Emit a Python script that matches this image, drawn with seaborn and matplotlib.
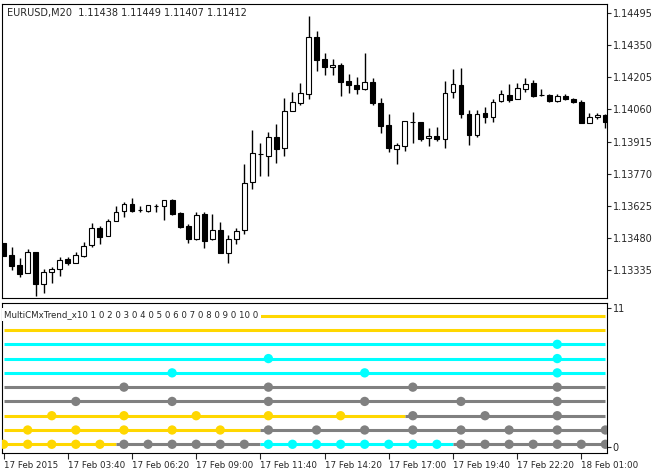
import numpy as np
import pandas as pd
import matplotlib
matplotlib.use("Agg")
import matplotlib.pyplot as plt
import seaborn as sns

sns.set_style("white")
plt.rcParams['font.family'] = ['DejaVu Sans']

# candles, EURUSD M20, in units of 1e-5
opens = [113456, 113403, 113358, 113320, 113415, 113271, 113325, 113338, 113382, 113368,
         113398, 113447, 113523, 113487, 113556, 113600, 113633, 113606, 113603, 113624,
         113626, 113650, 113594, 113534, 113477, 113589, 113474, 113516, 113410, 113474,
         113516, 113731, 113859, 113848, 113935, 113886, 114051, 114090, 114132, 114385,
         114286, 114250, 114260, 114188, 114169, 114151, 114182, 114090, 113990, 113880,
         113896, 114003, 114003, 113931, 113940, 113925, 114137, 114170, 114039, 113946,
         114042, 114024, 114096, 114123, 114105, 114154, 114178, 114125, 114126, 114098,
         114119, 114108, 114093, 114000, 114024, 114035]
closes = [113398, 113355, 113317, 113415, 113272, 113325, 113338, 113379, 113365, 113401,
          113444, 113523, 113486, 113556, 113597, 113633, 113603, 113606, 113629, 113624,
          113650, 113589, 113531, 113477, 113582, 113465, 113516, 113410, 113474, 113511,
          113726, 113862, 113859, 113935, 113883, 114051, 114093, 114132, 114385, 114284,
          114250, 114260, 114185, 114169, 114151, 114182, 114090, 113987, 113884, 113899,
          114006, 114003, 113928, 113940, 113925, 114132, 114173, 114039, 113944, 114039,
          114024, 114092, 114128, 114104, 114155, 114172, 114122, 114125, 114098, 114119,
          114105, 114092, 114000, 114026, 114035, 114005]
highs = [113456, 113438, 113388, 113430, 113415, 113341, 113350, 113392, 113392, 113415,
         113460, 113549, 113535, 113567, 113624, 113644, 113660, 113624, 113629, 113633,
         113650, 113656, 113599, 113543, 113599, 113597, 113589, 113550, 113493, 113526,
         113812, 113969, 113907, 113957, 113994, 114110, 114140, 114179, 114483, 114414,
         114313, 114287, 114271, 114220, 114205, 114316, 114202, 114111, 114039, 113910,
         114009, 114048, 114003, 113978, 113982, 114188, 114242, 114248, 114057, 114057,
         114069, 114108, 114148, 114176, 114178, 114203, 114193, 114151, 114131, 114132,
         114129, 114111, 114104, 114045, 114042, 114039]
lows = [113398, 113335, 113302, 113320, 113218, 113233, 113278, 113308, 113358, 113365,
        113392, 113438, 113454, 113487, 113556, 113573, 113595, 113595, 113595, 113597,
        113561, 113585, 113526, 113459, 113471, 113433, 113471, 113410, 113368, 113454,
        113496, 113702, 113758, 113761, 113820, 113848, 114051, 114080, 114105, 114235,
        114215, 114215, 114119, 114135, 114132, 114148, 114080, 113952, 113869, 113812,
        113872, 113910, 113917, 113896, 113917, 113884, 114111, 114020, 113901, 113934,
        114000, 114003, 114092, 114095, 114105, 114139, 114117, 114119, 114093, 114093,
        114102, 114090, 114000, 113997, 114018, 113975]

price_ticks = ["1.14495", "1.14350", "1.14205", "1.14060", "1.13915",
               "1.13770", "1.13625", "1.13480", "1.13335"]
time_labels = ["17 Feb 2015", "17 Feb 03:40", "17 Feb 06:20", "17 Feb 09:00", "17 Feb 11:40",
               "17 Feb 14:20", "17 Feb 17:00", "17 Feb 19:40", "17 Feb 22:20", "18 Feb 01:00"]
time_bars = [0, 8, 16, 24, 32, 40, 48, 56, 64, 72]

# indicator rows: colour segments (start bar, colour) and dot bars
GOLD, CYAN, GRAY = "#FFD700", "#00FFFF", "#808080"
row_segments = {
    10: [(0, GOLD)],
    9: [(0, GOLD)],
    8: [(0, CYAN)],
    7: [(0, CYAN)],
    6: [(0, CYAN)],
    5: [(0, GRAY)],
    4: [(0, GRAY)],
    3: [(0, GOLD), (50, GRAY)],
    2: [(0, GOLD), (32, GRAY)],
    1: [(0, GOLD), (14, GRAY), (32, CYAN), (56, GRAY)],
}
row_dots = {
    10: [], 9: [],
    8: [69],
    7: [33, 69],
    6: [21, 45, 69],
    5: [15, 33, 51, 69],
    4: [9, 21, 33, 45, 57, 69],
    3: [6, 15, 24, 33, 42, 51, 60, 69],
    2: [3, 9, 15, 21, 27, 33, 39, 45, 51, 57, 63, 69, 75],
    1: [0, 3, 6, 9, 12, 15, 18, 21, 24, 27, 30, 33, 36, 39, 42, 45, 48, 51, 54, 57, 60, 63, 66, 69, 72, 75],
}

n = len(opens)
o = np.array(opens) / 1e5
c = np.array(closes) / 1e5
h = np.array(highs) / 1e5
l = np.array(lows) / 1e5
x = np.arange(n)

W, H = 654, 470
fig = plt.figure(figsize=(W / 100, H / 100), dpi=100)
ax = fig.add_axes([2 / W, 1 - 298 / H, 605 / W, 294 / H])
ax2 = fig.add_axes([2 / W, 1 - 453 / H, 605 / W, 150 / H])

# candles
ax.vlines(x, l, h, color="black", lw=1)
bear = c < o
ax.bar(x, np.abs(c - o) + 0.000008, bottom=np.minimum(o, c), width=0.6,
       color=np.where(bear, "black", "white"), edgecolor="black", linewidth=0.8, zorder=3)
ax.set_xlim(-0.2, 75.2)
ax.set_ylim(1.13209, 1.14536)
ax.yaxis.tick_right()
ax.set_yticks([float(t) for t in price_ticks])
ax.set_yticklabels(price_ticks, fontsize=7)
ax.set_xticks([])
ax.tick_params(axis="y", direction="out", length=3, pad=1, right=True)
ax.text(0.008, 0.985, "EURUSD,M20  1.11438 1.11449 1.11407 1.11412", transform=ax.transAxes,
        fontsize=7, va="top", ha="left")

# indicator
for row, segs in row_segments.items():
    for k, (start, col) in enumerate(segs):
        end = segs[k + 1][0] if k + 1 < len(segs) else n - 1
        ax2.plot([start, end], [row, row], color=col, lw=2.2, solid_capstyle="butt", zorder=2)
rows = []
for row, bars in row_dots.items():
    segs = row_segments[row]
    for b in bars:
        col = [cc for s, cc in segs if s <= b][-1]
        rows.append({"bar": b, "row": row, "col": col})
dots = pd.DataFrame(rows)
sns.scatterplot(data=dots, x="bar", y="row", hue="col", palette={GOLD: GOLD, CYAN: CYAN, GRAY: GRAY},
                s=45, edgecolor="none", legend=False, ax=ax2, zorder=3)
ax2.set_xlim(-0.2, 75.2)
ax2.set_ylim(0.39, 10.89)
ax2.yaxis.tick_right()
ax2.set_yticks([10.54, 0.81])
ax2.set_yticklabels(["11", "0"], fontsize=7)
ax2.tick_params(axis="y", direction="out", length=3, pad=1, right=True)
ax2.set_xticks(time_bars)
ax2.set_xticklabels(time_labels, fontsize=6.3, ha="left")
for lab in ax2.get_xticklabels():
    lab.set_x(lab.get_position()[0])
ax2.tick_params(axis="x", direction="out", length=4, pad=2, bottom=True)
ax2.set_xlabel("")
ax2.set_ylabel("")
ax2.text(0.004, 0.955, "MultiCMxTrend_x10 1 0 2 0 3 0 4 0 5 0 6 0 7 0 8 0 9 0 10 0",
         transform=ax2.transAxes, fontsize=6.2, va="top", ha="left", zorder=5,
         bbox=dict(facecolor="white", edgecolor="none", pad=1.5))

for a in (ax, ax2):
    for sp in a.spines.values():
        sp.set_color("black")
        sp.set_linewidth(0.8)

fig.savefig("out.png", dpi=100)
